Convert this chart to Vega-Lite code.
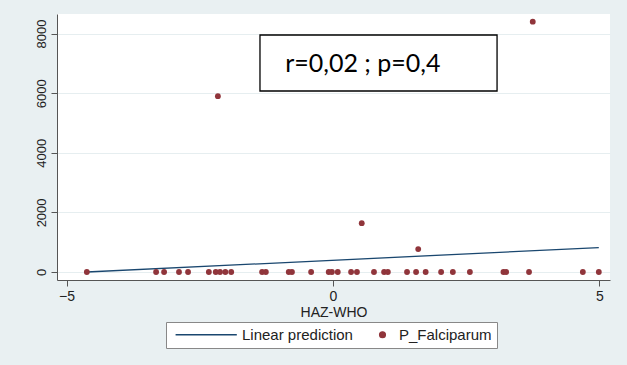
{
  "$schema": "https://vega.github.io/schema/vega-lite/v6.json",
  "width": 553,
  "height": 266,
  "autosize": "none",
  "padding": {"left": 57, "top": 14, "right": 17, "bottom": 85},
  "background": "#e9f0f2",
  "config": {
    "view": {"fill": "white", "stroke": null},
    "font": "Liberation Sans",
    "axis": {"labelFont": "Liberation Sans", "titleFont": "Liberation Sans", "labelColor": "#222", "titleColor": "#222", "domainColor": "#555", "tickColor": "#555", "tickSize": 6, "labelFontSize": 13, "titleFontSize": 13, "titleFontWeight": "normal"}
  },
  "datasets": {
    "pts": [
      {"haz": -4.62, "pf": 0}, {"haz": -3.32, "pf": 0}, {"haz": -3.17, "pf": 0}, {"haz": -2.89, "pf": 0},
      {"haz": -2.72, "pf": 0}, {"haz": -2.33, "pf": 0}, {"haz": -2.2, "pf": 0}, {"haz": -2.12, "pf": 0},
      {"haz": -2.02, "pf": 0}, {"haz": -1.91, "pf": 0}, {"haz": -1.33, "pf": 0}, {"haz": -1.26, "pf": 0},
      {"haz": -0.83, "pf": 0}, {"haz": -0.77, "pf": 0}, {"haz": -0.41, "pf": 0}, {"haz": -0.08, "pf": 0},
      {"haz": -0.02, "pf": 0}, {"haz": 0.09, "pf": 0}, {"haz": 0.34, "pf": 0}, {"haz": 0.45, "pf": 0},
      {"haz": 0.77, "pf": 0}, {"haz": 0.96, "pf": 0}, {"haz": 1.03, "pf": 0}, {"haz": 1.39, "pf": 0},
      {"haz": 1.56, "pf": 0}, {"haz": 1.74, "pf": 0}, {"haz": 2.03, "pf": 0}, {"haz": 2.25, "pf": 0},
      {"haz": 2.57, "pf": 0}, {"haz": 3.2, "pf": 0}, {"haz": 3.25, "pf": 0}, {"haz": 3.68, "pf": 0},
      {"haz": 4.69, "pf": 0}, {"haz": 4.99, "pf": 0},
      {"haz": -2.16, "pf": 5900}, {"haz": 3.75, "pf": 8400}, {"haz": 0.54, "pf": 1640}, {"haz": 1.6, "pf": 770}
    ],
    "fit": [
      {"haz": -4.62, "pred": 0},
      {"haz": 4.99, "pred": 820}
    ],
    "note": [
      {"x1": -1.37, "x2": 3.08, "y1": 6074, "y2": 7953, "xc": 0.56, "yc": 6990, "label": "r=0,02 ; p=0,4"}
    ]
  },
  "layer": [
    {
      "data": {"name": "fit"},
      "mark": {"type": "line", "strokeWidth": 1.3},
      "encoding": {
        "x": {"field": "haz", "type": "quantitative", "scale": {"domain": [-5.18, 5.2], "nice": false, "zero": false},
              "axis": {"values": [-5, 0, 5], "title": "HAZ-WHO", "grid": false, "labelPadding": 3, "titlePadding": 2, "labelFontSize": 14, "titleFontSize": 14}},
        "y": {"field": "pred", "type": "quantitative", "scale": {"domain": [-268, 8658], "nice": false},
              "axis": {"values": [0, 2000, 4000, 6000, 8000], "format": "d", "title": null, "labelAngle": -90, "labelAlign": "center", "labelBaseline": "bottom", "labelPadding": 3, "grid": true, "gridColor": "#e6eef0"}},
        "color": {"datum": "Linear prediction", "type": "nominal",
                  "scale": {"domain": ["Linear prediction", "P_Falciparum"], "range": ["#1a476f", "#90353b"]},
                  "legend": {
                    "title": null, "orient": "none", "legendX": 109, "legendY": 308, "direction": "horizontal",
                    "fillColor": "white", "strokeColor": "#888", "padding": 5,
                    "labelFont": "Liberation Sans", "labelFontSize": 15, "labelColor": "#222",
                    "symbolSize": 34, "labelOffset": 9, "columnPadding": 22,
                    "encode": {
                      "symbols": {
                        "update": {
                          "shape": {"signal": "datum.value === 'Linear prediction' ? 'M-1,0H20' : 'circle'"},
                          "stroke": {"signal": "datum.value === 'Linear prediction' ? '#3d6a94' : 'transparent'"},
                          "fill": {"signal": "datum.value === 'Linear prediction' ? 'transparent' : '#90353b'"},
                          "strokeWidth": {"value": 1.3}
                        }
                      },
                      "labels": {
                        "update": {
                          "dx": {"signal": "datum.value === 'Linear prediction' ? 47 : 0"}
                        }
                      }
                    }
                  }}
      }
    },
    {
      "data": {"name": "pts"},
      "mark": {"type": "point", "filled": true, "opacity": 1, "size": 34},
      "encoding": {
        "x": {"field": "haz", "type": "quantitative"},
        "y": {"field": "pf", "type": "quantitative"},
        "color": {"datum": "P_Falciparum", "type": "nominal"}
      }
    },
    {
      "data": {"name": "note"},
      "mark": {"type": "rect", "fill": "white", "stroke": "black", "strokeWidth": 1.3},
      "encoding": {
        "x": {"field": "x1", "type": "quantitative"},
        "x2": {"field": "x2"},
        "y": {"field": "y1", "type": "quantitative"},
        "y2": {"field": "y2"}
      }
    },
    {
      "data": {"name": "note"},
      "mark": {"type": "text", "font": "Lato", "fontSize": 25, "color": "black", "align": "center", "baseline": "middle"},
      "encoding": {
        "x": {"field": "xc", "type": "quantitative"},
        "y": {"field": "yc", "type": "quantitative"},
        "text": {"field": "label"}
      }
    }
  ]
}
